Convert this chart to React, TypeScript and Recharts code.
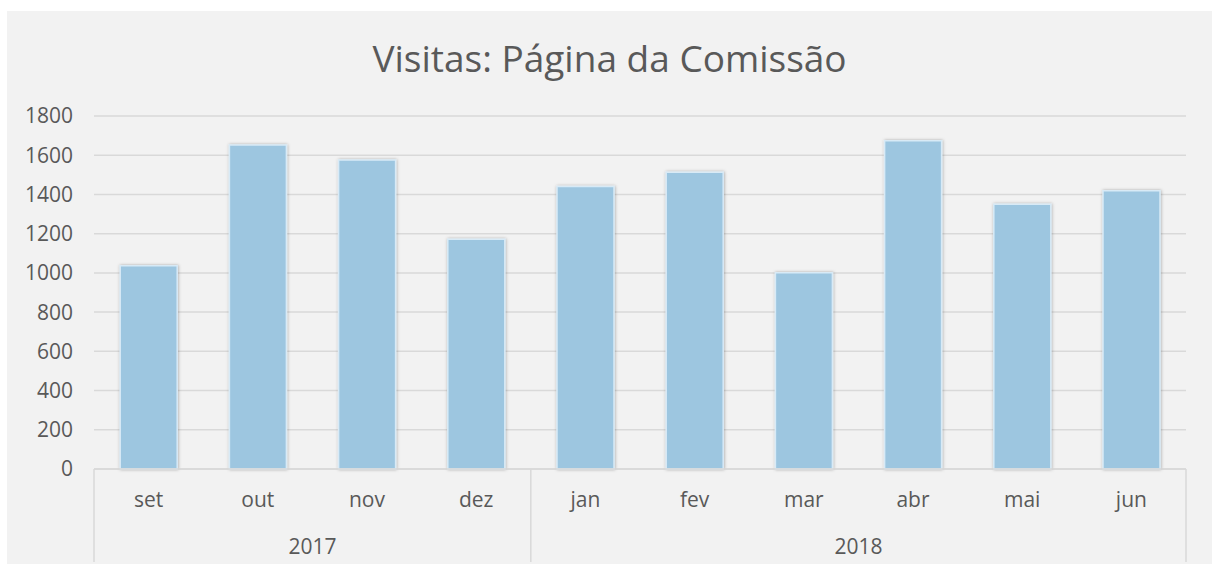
import React from 'react';
import { BarChart, Bar, XAxis, YAxis, CartesianGrid } from 'recharts';

const months = ['set', 'out', 'nov', 'dez', 'jan', 'fev', 'mar', 'abr', 'mai', 'jun'];
const visits = [1037, 1652, 1576, 1171, 1440, 1513, 1001, 1674, 1350, 1419];
const years = ['2017', '2018'];
const yearMonthCounts = [4, 6];
const yTicks = [0, 200, 400, 600, 800, 1000, 1200, 1400, 1600, 1800];
const title = 'Visitas: Página da Comissão';

const data = months.map((m, i) => ({ month: m, visits: visits[i] }));

const FONT = '"Open Sans", "Noto Sans", sans-serif';
const TEXT = '#595959';
const GRID = '#d9d9d9';

const CHART_W = 1205;
const CHART_H = 553;
const MARGIN = { top: 105, right: 26, left: 0, bottom: 0 };
const Y_AXIS_W = 87;
const X_AXIS_H = 95;
const PLOT_W = CHART_W - MARGIN.left - MARGIN.right - Y_AXIS_W;
const BAND = PLOT_W / months.length;

// group structure for the two-level category axis
const groupStarts: number[] = [];
let acc = 0;
yearMonthCounts.forEach((c) => {
  groupStarts.push(acc);
  acc += c;
});

const MonthTick = (props: any) => {
  const { x, y, index, payload } = props;
  const parts: React.ReactNode[] = [];
  parts.push(
    <text key="m" x={x} y={y + 38} textAnchor="middle" fill={TEXT} fontSize={21} fontFamily={FONT}>
      {payload.value}
    </text>
  );
  const gi = groupStarts.indexOf(index);
  if (gi >= 0) {
    const lx = x - BAND / 2;
    parts.push(<line key="s" x1={lx} x2={lx} y1={y} y2={y + X_AXIS_H - 2} stroke={GRID} strokeWidth={1.5} />);
  }
  if (index === months.length - 1) {
    const rx = x + BAND / 2;
    parts.push(<line key="e" x1={rx} x2={rx} y1={y} y2={y + X_AXIS_H - 2} stroke={GRID} strokeWidth={1.5} />);
  }
  groupStarts.forEach((s, g) => {
    const center = s + (yearMonthCounts[g] - 1) / 2;
    if (Math.floor(center) === index) {
      const cx = x + (center - index) * BAND;
      parts.push(
        <text key={'y' + g} x={cx} y={y + 85} textAnchor="middle" fill={TEXT} fontSize={21} fontFamily={FONT}>
          {years[g]}
        </text>
      );
    }
  });
  return <g>{parts}</g>;
};

export default function App() {
  return (
    <div style={{ position: 'absolute', left: 7, top: 11, width: CHART_W, height: CHART_H, background: '#f2f2f2' }}>
      <svg width={0} height={0} style={{ position: 'absolute' }}>
        <defs>
          <filter id="barShadow" x="-20%" y="-5%" width="140%" height="110%">
            <feDropShadow dx={0.5} dy={0} stdDeviation={1.6} floodColor="#000" floodOpacity={0.3} />
          </filter>
        </defs>
      </svg>
      <div
        style={{
          position: 'absolute',
          top: 21,
          left: 0,
          width: '100%',
          textAlign: 'center',
          fontFamily: FONT,
          fontSize: 37,
          color: TEXT,
          lineHeight: 'normal',
        }}
      >
        {title}
      </div>
      <BarChart width={CHART_W} height={CHART_H} data={data} margin={MARGIN} barCategoryGap="24%">
        <CartesianGrid vertical={false} stroke={GRID} strokeWidth={1.5} />
        <YAxis
          width={Y_AXIS_W}
          domain={[0, 1800]}
          ticks={yTicks}
          axisLine={false}
          tickLine={false}
          tickSize={0}
          tickMargin={21}
          tick={{ fill: TEXT, fontSize: 21, fontFamily: FONT }}
        />
        <XAxis
          dataKey="month"
          height={X_AXIS_H}
          axisLine={{ stroke: GRID, strokeWidth: 1.5 }}
          tickLine={false}
          tickSize={0}
          tickMargin={0}
          interval={0}
          tick={<MonthTick />}
        />
        <Bar
          dataKey="visits"
          fill="#9dc6e0"
          stroke="#d8eaf6"
          strokeWidth={1.5}
          filter="url(#barShadow)"
          isAnimationActive={false}
        />
      </BarChart>
    </div>
  );
}
